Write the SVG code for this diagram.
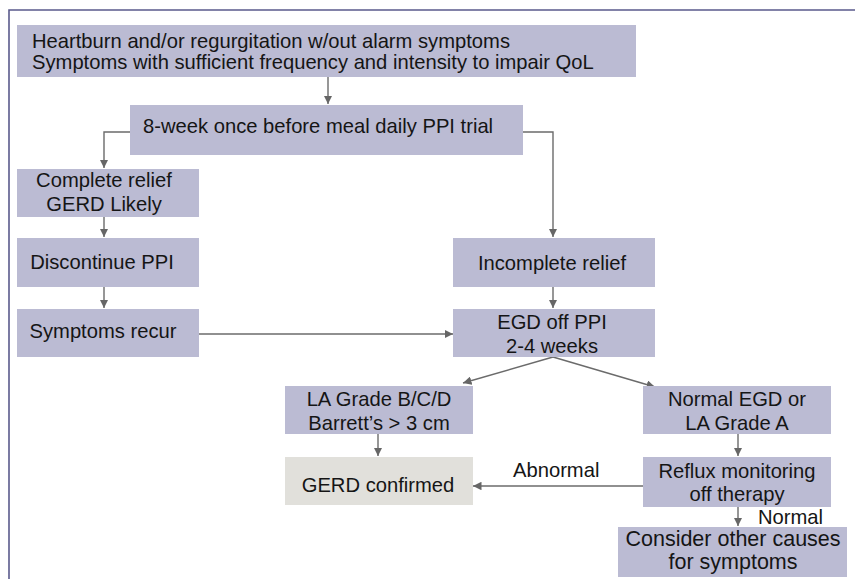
<svg xmlns="http://www.w3.org/2000/svg" width="855" height="579" viewBox="0 0 855 579">
<defs>
<marker id="ah" viewBox="0 0 10 10" refX="10" refY="5" markerWidth="8.5" markerHeight="8.5" markerUnits="userSpaceOnUse" orient="auto">
<path d="M0,0 L10,5 L0,10 z" fill="#666666"/>
</marker>
<style>
.box{fill:#bbbbd3;}
.box2{fill:#e1e0db;}
text{font-family:"Liberation Sans",Arial,Helvetica,sans-serif;font-size:20.2px;fill:#151515;}
.c{text-anchor:middle;}
.big{font-size:21.5px;}
.ln{fill:none;stroke:#6b6b6b;stroke-width:1.4;marker-end:url(#ah);}
.frame{fill:none;stroke:#5a5a8c;stroke-width:1.6;}
</style>
</defs>
<rect width="855" height="579" fill="#ffffff"/>
<path class="frame" d="M9,579 L9,10 L855,10"/>

<g id="connectors">
<line class="ln" x1="328" y1="77" x2="328" y2="104"/>
<path class="ln" d="M130,132 L104,132 L104,168"/>
<path class="ln" d="M523,132 L553,132 L553,237"/>
<line class="ln" x1="104" y1="217" x2="104" y2="237"/>
<line class="ln" x1="104" y1="287" x2="104" y2="308"/>
<line class="ln" x1="199" y1="334" x2="453" y2="334"/>
<line class="ln" x1="553" y1="287" x2="553" y2="308"/>
<line class="ln" x1="553" y1="357" x2="463" y2="383"/>
<line class="ln" x1="553" y1="357" x2="655" y2="387"/>
<line class="ln" x1="378" y1="434" x2="378" y2="456"/>
<line class="ln" x1="738" y1="434" x2="738" y2="456"/>
<line class="ln" x1="643" y1="486" x2="473" y2="486"/>
<line class="ln" x1="738" y1="507" x2="738" y2="526"/>
<text x="513" y="477">Abnormal</text>
<text x="758" y="524">Normal</text>
</g>

<g id="start">
<rect class="box" x="17" y="25" width="619" height="52"/>
<text x="32" y="48">Heartburn and/or regurgitation w/out alarm symptoms</text>
<text x="32" y="69">Symptoms with sufficient frequency and intensity to impair QoL</text>
</g>
<g id="ppi">
<rect class="box" x="130" y="105" width="393" height="50"/>
<text x="143" y="133">8-week once before meal daily PPI trial</text>
</g>
<g id="complete">
<rect class="box" x="17" y="169" width="182" height="48"/>
<text class="c" x="104" y="187">Complete relief</text>
<text class="c" x="104" y="211">GERD Likely</text>
</g>
<g id="discontinue">
<rect class="box" x="17" y="238" width="182" height="49"/>
<text class="c" x="102" y="269">Discontinue PPI</text>
</g>
<g id="recur">
<rect class="box" x="17" y="309" width="182" height="48"/>
<text class="c" x="103" y="338">Symptoms recur</text>
</g>
<g id="incomplete">
<rect class="box" x="453" y="238" width="202" height="49"/>
<text class="c" x="552" y="270">Incomplete relief</text>
</g>
<g id="egd">
<rect class="box" x="453" y="309" width="202" height="48"/>
<text class="c" x="552" y="329">EGD off PPI</text>
<text class="c" x="552" y="353">2-4 weeks</text>
</g>
<g id="lagrade">
<rect class="box" x="285" y="386" width="188" height="48"/>
<text class="c" x="379" y="406">LA Grade B/C/D</text>
<text class="c" x="379" y="430">Barrett’s &gt; 3 cm</text>
</g>
<g id="normalegd">
<rect class="box" x="643" y="386" width="188" height="48"/>
<text class="c" x="737" y="406">Normal EGD or</text>
<text class="c" x="737" y="430">LA Grade A</text>
</g>
<g id="gerd">
<rect class="box2" x="285" y="457" width="188" height="48"/>
<text class="c" x="378" y="492">GERD confirmed</text>
</g>
<g id="reflux">
<rect class="box" x="643" y="457" width="188" height="50"/>
<text class="c" x="737" y="478">Reflux monitoring</text>
<text class="c" x="737" y="501">off therapy</text>
</g>
<g id="consider">
<rect class="box" x="618" y="527" width="229" height="50"/>
<text class="c big" x="733" y="546">Consider other causes</text>
<text class="c big" x="733" y="569">for symptoms</text>
</g>
</svg>
